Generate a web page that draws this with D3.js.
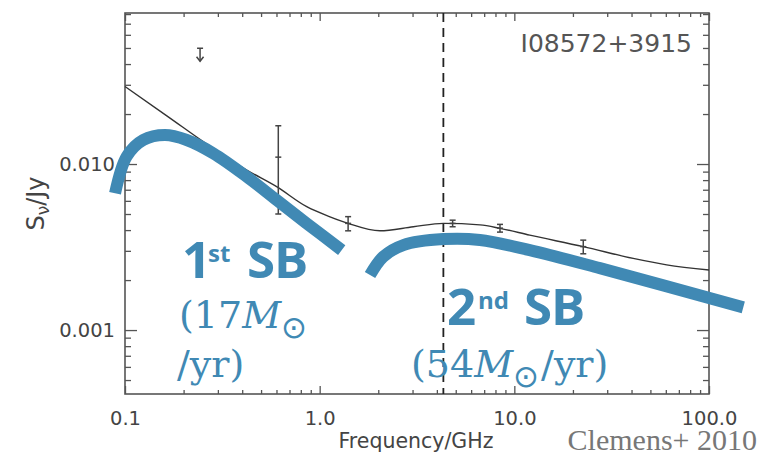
<!DOCTYPE html>
<html>
<head>
<meta charset="utf-8">
<script src="https://cdn.jsdelivr.net/npm/d3@7"></script>
<style>
  html, body { margin: 0; padding: 0; background: #fff; }
  svg { display: block; }
</style>
</head>
<body>
<svg id="chart" width="767" height="457"></svg>
<script>
// Radio SED of I08572+3915: observed flux densities, fitted model and two starburst components

// Axis ticks
const xMajor = [0.1, 1, 10, 100];
const xLabels = ["0.1", "1.0", "10.0", "100.0"];
const yMajor = [0.001, 0.01];
const yLabels = ["0.001", "0.010"];

// Observed flux densities (GHz, Jy) with 1-sigma errors
const obsFreq = [0.613, 1.40, 4.82, 8.44, 22.6];
const obsFlux = [0.011, 0.00439, 0.00439, 0.00411, 0.00318];
const obsErr  = [0.006, 0.00043, 0.0002, 0.00022, 0.0003];

// Upper limit
const limitFreq = [0.243];
const limitFlux = [0.0498];

// Total model fit
const modelFreq = [0.1, 0.164, 0.284, 0.422, 0.601, 0.858, 1.13, 1.40, 2.04, 3.03, 4.32, 6.66, 8.44, 12.0, 22.6, 40.8, 60.6, 100];
const modelFlux = [0.0293, 0.0195, 0.0124, 0.0092, 0.0073, 0.00553, 0.00481, 0.00439, 0.00396, 0.00419, 0.00439, 0.0043, 0.0041, 0.00373, 0.00318, 0.0027, 0.00247, 0.0023];

// First starburst component
const sb1Freq = [0.0889, 0.102, 0.124, 0.1605, 0.2075, 0.284, 0.422, 0.601, 0.858, 1.298];
const sb1Flux = [0.00666, 0.0111, 0.01395, 0.01495, 0.01395, 0.0116, 0.00839, 0.00607, 0.00439, 0.00303];

// Second starburst component
const sb2Freq = [1.814, 2.12, 2.69, 4.32, 6.66, 12.0, 27.5, 150];
const sb2Flux = [0.002145, 0.002764, 0.00325, 0.00353, 0.00349, 0.00303, 0.00236, 0.00137];

// Turnover frequency marker
const peakFreq = [4.32];

const svg = d3.select("#chart");
const plotL = 125, plotR = 709, plotT = 13, plotB = 394;

const x = d3.scaleLog().domain([0.1, 100]).range([plotL, plotR]);
const y = d3.scaleLog().domain([0.000412, 0.0812]).range([plotB, plotT]);

const axisColor = "#555";
const labelFont = "'DejaVu Sans', sans-serif";
const blue = "#4089b4";

// ---- axes (IDL style: ticks pointing inward on all four sides)
const xMinor = x.ticks().filter(d => !xMajor.some(m => Math.abs(m - d) < 1e-9));
const yMinor = y.ticks().filter(d => !yMajor.some(m => Math.abs(m - d) < 1e-12));

function styleAxis(g) {
  g.select(".domain").remove();
  g.selectAll(".tick line").attr("stroke", axisColor).attr("stroke-width", 1.3);
  g.selectAll(".tick text").attr("fill", "#444").attr("font-family", labelFont).attr("font-size", 19.5);
}

svg.append("g").attr("transform", `translate(0,${plotB})`)
  .call(d3.axisBottom(x).tickValues(xMinor).tickFormat("").tickSizeInner(-4).tickSizeOuter(0))
  .call(styleAxis);
svg.append("g").attr("transform", `translate(0,${plotB})`)
  .call(d3.axisBottom(x).tickValues(xMajor).tickFormat((d, i) => xLabels[i]).tickSizeInner(-8).tickSizeOuter(0).tickPadding(17))
  .call(styleAxis);
svg.append("g").attr("transform", `translate(0,${plotT})`)
  .call(d3.axisTop(x).tickValues(xMinor).tickFormat("").tickSizeInner(-4).tickSizeOuter(0))
  .call(styleAxis);
svg.append("g").attr("transform", `translate(0,${plotT})`)
  .call(d3.axisTop(x).tickValues(xMajor).tickFormat("").tickSizeInner(-8).tickSizeOuter(0))
  .call(styleAxis);

svg.append("g").attr("transform", `translate(${plotL},0)`)
  .call(d3.axisLeft(y).tickValues(yMinor).tickFormat("").tickSizeInner(-6).tickSizeOuter(0))
  .call(styleAxis);
svg.append("g").attr("transform", `translate(${plotL},0)`)
  .call(d3.axisLeft(y).tickValues(yMajor).tickFormat((d, i) => yLabels[i]).tickSizeInner(-12).tickSizeOuter(0).tickPadding(10))
  .call(styleAxis);
svg.append("g").attr("transform", `translate(${plotR},0)`)
  .call(d3.axisRight(y).tickValues(yMinor).tickFormat("").tickSizeInner(-6).tickSizeOuter(0))
  .call(styleAxis);
svg.append("g").attr("transform", `translate(${plotR},0)`)
  .call(d3.axisRight(y).tickValues(yMajor).tickFormat("").tickSizeInner(-12).tickSizeOuter(0))
  .call(styleAxis);

// plot frame
svg.append("rect")
  .attr("x", plotL).attr("y", plotT)
  .attr("width", plotR - plotL).attr("height", plotB - plotT)
  .attr("fill", "none").attr("stroke", axisColor).attr("stroke-width", 1.6);

// axis titles
svg.append("text")
  .attr("x", 416).attr("y", 448)
  .attr("text-anchor", "middle")
  .attr("font-family", labelFont).attr("font-size", 20.5).attr("fill", "#444")
  .text("Frequency/GHz");

const yTitle = svg.append("text")
  .attr("transform", `translate(44,${(plotT + plotB) / 2}) rotate(-90)`)
  .attr("text-anchor", "middle")
  .attr("font-family", labelFont).attr("font-size", 24).attr("fill", "#444");
yTitle.append("tspan").text("S");
yTitle.append("tspan").attr("font-size", 17).attr("dy", 5).text("ν");
yTitle.append("tspan").attr("dy", -5).text("/Jy");

// source name
svg.append("text")
  .attr("x", 692).attr("y", 52).attr("text-anchor", "end")
  .attr("font-family", labelFont).attr("font-size", 25).attr("fill", "#555")
  .text("I08572+3915");

// ---- turnover frequency (dashed)
svg.append("line")
  .attr("x1", x(peakFreq[0])).attr("x2", x(peakFreq[0]))
  .attr("y1", plotT).attr("y2", plotB)
  .attr("stroke", "#222").attr("stroke-width", 1.8)
  .attr("stroke-dasharray", "9,6");

// ---- model fit
const lineGen = d3.line().x(d => x(d[0])).y(d => y(d[1])).curve(d3.curveMonotoneX);
svg.append("path")
  .datum(modelFreq.map((f, i) => [f, modelFlux[i]]))
  .attr("d", lineGen)
  .attr("fill", "none").attr("stroke", "#333").attr("stroke-width", 1.4);

// ---- observed points with error bars
const capW = 3;
const pts = svg.append("g").attr("stroke", "#444").attr("stroke-width", 1.5);
obsFreq.forEach((f, i) => {
  const cx = x(f);
  const y0 = y(obsFlux[i] - obsErr[i]), y1 = y(obsFlux[i] + obsErr[i]);
  pts.append("line").attr("x1", cx).attr("x2", cx).attr("y1", y0).attr("y2", y1);
  pts.append("line").attr("x1", cx - capW).attr("x2", cx + capW).attr("y1", y0).attr("y2", y0);
  pts.append("line").attr("x1", cx - capW).attr("x2", cx + capW).attr("y1", y1).attr("y2", y1);
  pts.append("line").attr("x1", cx - capW).attr("x2", cx + capW).attr("y1", y(obsFlux[i])).attr("y2", y(obsFlux[i]));
});

// upper limit (bar + downward arrow)
limitFreq.forEach((f, i) => {
  const cx = x(f), cy = y(limitFlux[i]);
  pts.append("line").attr("x1", cx - capW).attr("x2", cx + capW).attr("y1", cy).attr("y2", cy);
  pts.append("line").attr("x1", cx).attr("x2", cx).attr("y1", cy).attr("y2", cy + 13);
  pts.append("path").attr("d", `M${cx - 3.5},${cy + 8.5}L${cx},${cy + 13}L${cx + 3.5},${cy + 8.5}`)
    .attr("fill", "none");
});

// ---- starburst components (thick overlay curves)
const sbGen = d3.line().x(d => x(d[0])).y(d => y(d[1])).curve(d3.curveCatmullRom.alpha(0.5));
[[sb1Freq, sb1Flux], [sb2Freq, sb2Flux]].forEach(([fs, ss]) => {
  svg.append("path")
    .datum(fs.map((f, i) => [f, ss[i]]))
    .attr("d", sbGen)
    .attr("fill", "none").attr("stroke", blue)
    .attr("stroke-width", 12).attr("stroke-linecap", "butt");
});

// ---- component labels
const sansBold = "'Open Sans', 'Noto Sans', sans-serif";
const serif = "'DejaVu Serif', serif";

function sbLabel(xNum, xSup, xSB, base, num, sup) {
  const t = svg.append("text").attr("fill", blue).attr("font-family", sansBold).attr("font-weight", 700);
  t.append("tspan").attr("x", xNum).attr("y", base).attr("font-size", 51).text(num);
  t.append("tspan").attr("x", xSup).attr("y", base - 16).attr("font-size", 24).text(sup);
  t.append("tspan").attr("x", xSB).attr("y", base).attr("font-size", 51).attr("letter-spacing", -1).text("SB");
}
sbLabel(182, 208, 247, 278, "1", "st");
sbLabel(447, 478, 524, 325, "2", "nd");

function rateLine(xs, base, parts) {
  const t = svg.append("text").attr("x", xs).attr("y", base)
    .attr("fill", blue).attr("font-family", serif).attr("font-size", 38);
  parts.forEach(p => {
    const s = t.append("tspan").text(p.t);
    if (p.italic) s.attr("font-style", "italic");
    if (p.sub) s.attr("dy", 10).attr("font-size", 31).attr("font-family", "'DejaVu Sans', sans-serif");
    if (p.back) s.attr("dy", -10).attr("dx", 2);
  });
}
rateLine(179, 328, [{ t: "(17" }, { t: "M", italic: true }, { t: "⊙", sub: true }]);
rateLine(177, 377, [{ t: "/yr)" }]);
rateLine(411, 377, [{ t: "(54" }, { t: "M", italic: true }, { t: "⊙", sub: true }, { t: "/yr)", back: true }]);

// citation
svg.append("text")
  .attr("x", 757).attr("y", 450).attr("text-anchor", "end")
  .attr("font-family", "'Liberation Serif', serif").attr("font-size", 30).attr("fill", "#777")
  .text("Clemens+ 2010");
</script>
</body>
</html>
